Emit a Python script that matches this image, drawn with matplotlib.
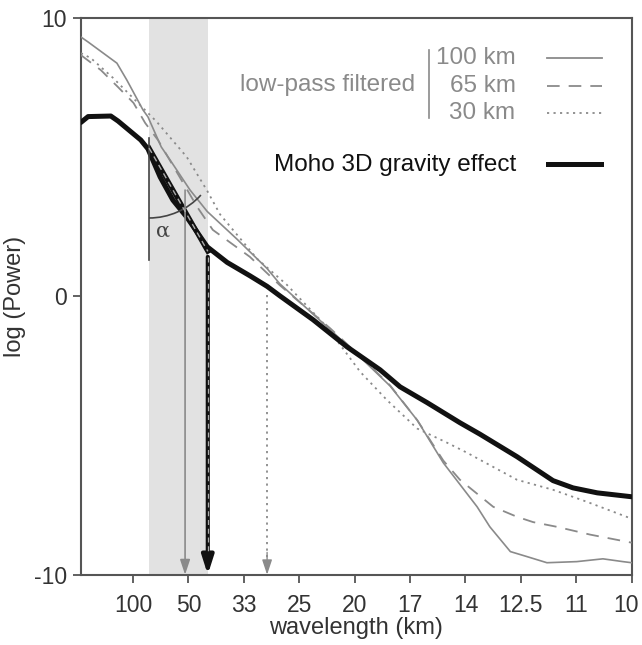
import matplotlib
matplotlib.use('Agg')
import matplotlib.pyplot as plt
import matplotlib.transforms as mtransforms
from matplotlib.patches import Arc

plt.rcParams['font.family'] = ['Liberation Sans', 'DejaVu Sans']

# x axis is wavenumber (100 / wavelength in km)
tick_pos = [1, 2, 3, 4, 5, 6, 7, 8, 9, 10]
tick_lab = ['100', '50', '33', '25', '20', '17', '14', '12.5', '11', '10']

# Moho 3D gravity effect
moho_k = [0.06, 0.19, 0.60, 0.73, 1.14, 1.27, 1.49, 1.72, 1.97, 2.34, 2.70, 3.11, 3.42,
          3.65, 4.25, 4.86, 5.46, 5.82, 6.31, 6.90, 7.26, 7.93, 8.58, 8.94, 9.38, 10.0]
moho_p = [6.25, 6.46, 6.48, 6.30, 5.62, 5.30, 4.29, 3.46, 2.85, 1.78, 1.22, 0.74, 0.36,
          0.02, -0.84, -1.81, -2.64, -3.25, -3.82, -4.54, -4.95, -5.76, -6.62, -6.88, -7.06, -7.20]

# low-pass filtered 100 km
lp100_k = [0.06, 0.19, 0.71, 0.89, 1.18, 1.27, 1.51, 1.67, 2.03, 2.34, 2.88, 3.42, 3.65,
           4.56, 5.15, 5.64, 6.13, 6.60, 7.21, 7.44, 7.81, 8.11, 8.47, 9.01, 9.48, 9.84, 10.0]
lp100_p = [9.32, 9.14, 8.38, 7.77, 6.70, 6.45, 5.37, 4.90, 3.82, 3.05, 2.05, 1.00, 0.45,
           -1.20, -2.28, -3.22, -4.45, -5.98, -7.56, -8.28, -9.17, -9.35, -9.57, -9.53, -9.43, -9.53, -9.57]

# low-pass filtered 65 km
lp65_k = [0.06, 0.42, 0.73, 1.01, 1.22, 1.45, 2.16, 2.44, 3.11, 3.65, 4.56, 5.15, 5.64,
          6.13, 6.60, 6.90, 7.50, 7.93, 8.22, 8.65, 9.25, 10.0]
lp65_p = [8.67, 8.13, 7.52, 6.95, 6.23, 5.62, 3.21, 2.39, 1.42, 0.40, -1.15, -2.25, -3.20,
          -4.45, -5.90, -6.59, -7.56, -7.92, -8.11, -8.28, -8.56, -8.85]

# low-pass filtered 30 km
lp30_k = [0.06, 0.24, 0.64, 1.18, 1.43, 1.97, 2.34, 2.57, 2.80, 3.24, 3.47, 3.78, 4.50,
          5.10, 5.58, 6.13, 6.67, 7.03, 7.26, 7.93, 8.58, 9.19, 10.0]
lp30_p = [8.74, 8.56, 7.85, 6.77, 6.27, 5.01, 3.79, 2.95, 2.40, 1.35, 0.95, 0.41, -1.10,
          -2.71, -3.72, -4.75, -5.26, -5.62, -5.87, -6.59, -6.95, -7.38, -7.99]

band = (1.29, 2.35)       # shaded wavenumber range
kink = (1.29, 5.33)       # start of slope segment (alpha vertex)
slope_end = (2.35, 1.62)
arrow_solid = (1.94, 3.82)
arrow_thick = (2.35, 1.42)
arrow_dot = (3.42, 0.05)

grey = '#8a8a8a'
fig = plt.figure(figsize=(6.42, 6.45), dpi=100)
ax = fig.add_axes([0.126, 0.109, 0.858, 0.863])

ax.axvspan(band[0], band[1], color='#e2e2e2', lw=0, zorder=0)

ax.plot(lp100_k, lp100_p, color=grey, lw=1.2, zorder=3)
ax.plot(lp65_k, lp65_p, color=grey, lw=1.3, dashes=(7, 5), zorder=3)
ax.plot(lp30_k, lp30_p, color=grey, lw=1.3, dashes=(1.2, 2.4), zorder=3)
ax.plot(moho_k, moho_p, color='#111111', lw=3.6, zorder=4, solid_capstyle='round')

# slope segment with dashed overlay
ax.plot([kink[0], slope_end[0]], [kink[1], slope_end[1]], color='#111111', lw=3.6, zorder=5)
ax.plot([kink[0], slope_end[0]], [kink[1], slope_end[1]], color='#aaaaaa', lw=1.0,
        dashes=(4, 3), zorder=6)

# alpha angle
ax.plot([kink[0], kink[0]], [5.69, 1.31], color='#444444', lw=1.2, zorder=5)
ax.add_patch(Arc(kink, 2 * 70 / 55.4, 2 * 70 / 27.85, theta1=-90, theta2=-61,
                 color='#444444', lw=1.2, zorder=5))
ax.text(1.54, 2.35, 'α', fontsize=15, color='#444444', ha='center', va='center',
        family='DejaVu Serif')

# arrows
ax.annotate('', xy=(arrow_solid[0], -10), xytext=arrow_solid,
            arrowprops=dict(arrowstyle='-|>,head_length=0.9,head_width=0.3', color=grey,
                            lw=1.2, shrinkA=0, shrinkB=0), zorder=5)
ax.plot([arrow_dot[0], arrow_dot[0]], [arrow_dot[1], -9.6], color=grey, lw=1.3,
        dashes=(1.2, 2.4), zorder=5)
ax.annotate('', xy=(arrow_dot[0], -10), xytext=(arrow_dot[0], -9.2),
            arrowprops=dict(arrowstyle='-|>,head_length=0.9,head_width=0.3', color=grey,
                            lw=1.0, shrinkA=0, shrinkB=0), zorder=5)
ax.annotate('', xy=(arrow_thick[0], -10), xytext=arrow_thick,
            arrowprops=dict(arrowstyle='-|>,head_length=1.1,head_width=0.35', color='#111111',
                            lw=3.0, shrinkA=0, shrinkB=0), zorder=6)
ax.plot([arrow_thick[0], arrow_thick[0]], [arrow_thick[1], -9.2], color='#aaaaaa', lw=0.9,
        dashes=(4, 3), zorder=7)

# legend drawn by hand
fs = 17.5
tr = ax.transAxes
ax.text(0.606, 0.880, 'low-pass filtered', transform=tr, ha='right', va='center',
        fontsize=fs, color=grey)
ax.plot([0.632, 0.632], [0.820, 0.943], transform=tr, color=grey, lw=1.2)
for yy, lab, ls in [(0.928, '100 km', '-'), (0.878, '65 km', (0, (7, 5))),
                    (0.829, '30 km', (0, (1.2, 2.4)))]:
    ax.text(0.789, yy, lab, transform=tr, ha='right', va='center', fontsize=fs, color=grey)
    ax.plot([0.846, 0.946], [yy, yy], transform=tr, color=grey, lw=1.3, linestyle=ls)
ax.text(0.791, 0.736, 'Moho 3D gravity effect', transform=tr, ha='right', va='center',
        fontsize=fs, color='#111111')
ax.plot([0.848, 0.944], [0.738, 0.738], transform=tr, color='#111111', lw=3.6)

ax.set_xlim(0.06, 10)
ax.set_ylim(-10, 10)
ax.set_xticks(tick_pos)
ax.set_xticklabels(tick_lab)
ax.set_yticks([-10, 0, 10])
ax.set_yticklabels(['-10', '0', '10'])
ax.tick_params(direction='out', length=6, width=1.3, color='#555555', labelsize=16.5,
               labelcolor='#333333')
ax.tick_params(axis='x', pad=8)
ax.tick_params(axis='y', pad=4)
# keep the last label inside the figure
last = ax.get_xticklabels()[-1]
last.set_transform(last.get_transform() +
                   mtransforms.ScaledTranslation(-6 / 100, 0, fig.dpi_scale_trans))
for s in ax.spines.values():
    s.set_color('#555555')
    s.set_linewidth(1.5)
ax.set_xlabel('wavelength (km)', fontsize=17, color='#333333', labelpad=0)
ax.set_ylabel('log (Power)', fontsize=17, color='#333333', labelpad=6)

fig.savefig('out.png', dpi=100)
